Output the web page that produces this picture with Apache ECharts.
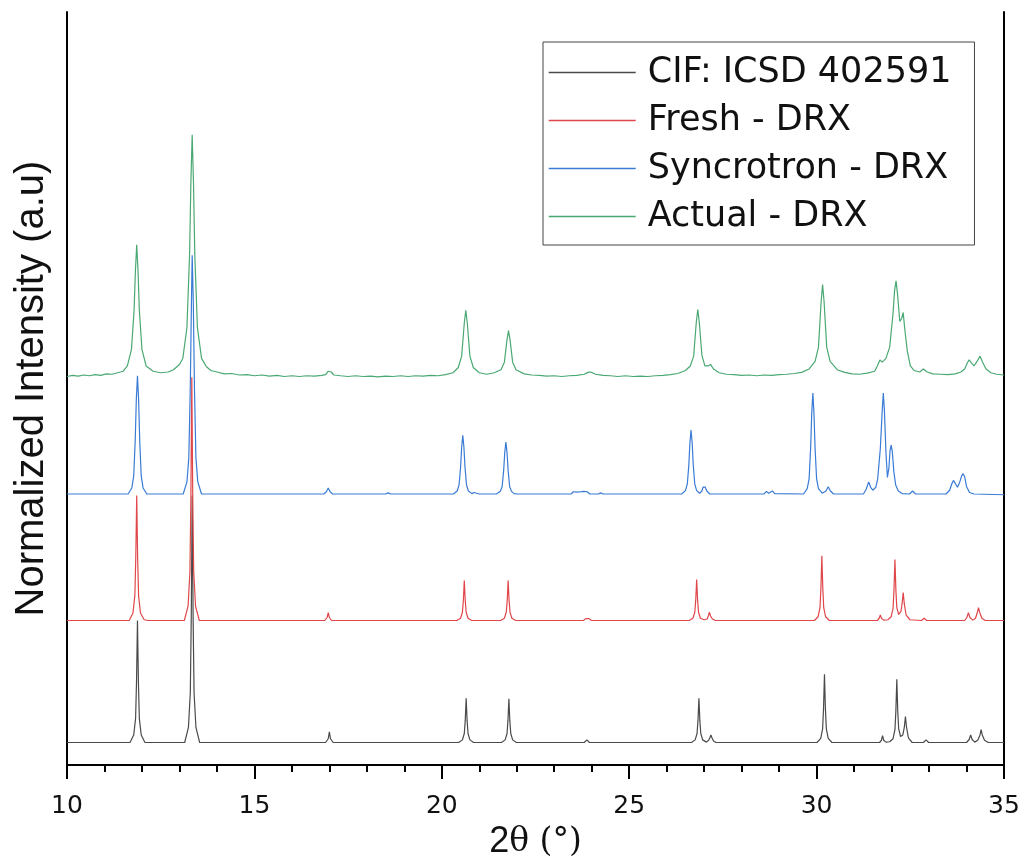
<!DOCTYPE html>
<html>
<head>
<meta charset="utf-8">
<script src="https://cdn.jsdelivr.net/npm/echarts@6/dist/echarts.min.js"></script>
<style>html,body{margin:0;padding:0;background:#fff}#c{width:1026px;height:865px}</style>
</head>
<body>
<div id="c"></div>
<script>
// Series names (legend order)
const seriesNames = ['CIF: ICSD 402591', 'Fresh - DRX', 'Syncrotron - DRX', 'Actual - DRX'];
const seriesColors = ['#4a4a4a', '#e0474a', '#3a7bd5', '#4aa873'];

// x-axis range / ticks (2θ, degrees)
const xMin = 10, xMax = 35, xStep = 5;

// [2θ, normalized intensity (stacked offset units)]
const cifData = [
[10,3.0],[11.68,3.0],[11.78,4.0],[11.83,6.2],[11.855,11.1],[11.88,19.2],[11.905,11.1],[11.93,6.2],[11.98,4.0],[12.08,3.0],
[13.14,3.0],[13.24,5.0],[13.29,9.6],[13.315,19.4],[13.34,35.8],[13.365,19.4],[13.39,9.6],[13.44,5.0],[13.54,3.0],
[16.9,3.0],[16.97,3.5],[17.0,4.4],[17.03,3.5],[17.1,3.0],
[20.45,3.0],[20.55,3.35],[20.6,4.2],[20.625,5.9],[20.65,8.87],[20.675,5.9],[20.7,4.2],[20.75,3.35],[20.85,3.0],
[21.59,3.0],[21.69,3.35],[21.74,4.2],[21.765,5.9],[21.79,8.8],[21.815,5.9],[21.84,4.2],[21.89,3.35],[21.99,3.0],
[23.8,3.0],[23.87,3.35],[23.94,3.0],[24.3,3.0],[24.35,3.15],[24.4,3.0],
[26.66,3.0],[26.76,3.35],[26.81,4.2],[26.835,5.9],[26.86,8.87],[26.885,5.9],[26.91,4.2],[26.96,3.35],[27.06,3.05],[27.12,3.3],[27.15,3.6],[27.18,4.0],[27.21,3.6],[27.25,3.2],[27.32,3.0],
[30.01,3.0],[30.11,3.55],[30.16,4.8],[30.185,7.5],[30.21,12.05],[30.235,7.5],[30.26,4.8],[30.31,3.55],[30.41,3.0],
[31.68,3.0],[31.73,3.3],[31.76,3.9],[31.79,3.3],[31.85,3.05],
[31.95,3.1],[32.04,3.5],[32.09,4.7],[32.115,7.2],[32.14,11.4],[32.165,7.2],[32.19,4.8],[32.24,3.8],[32.3,4.0],[32.34,5.0],[32.37,6.45],[32.4,5.0],[32.45,3.6],[32.55,3.0],
[32.85,3.0],[32.92,3.35],[32.99,3.0],
[34.0,3.0],[34.07,3.4],[34.11,4.0],[34.15,3.4],[34.22,3.05],[34.3,3.3],[34.36,4.0],[34.39,4.7],[34.42,4.0],[34.48,3.3],[34.58,3.0],[35,3.0]
];

const freshData = [
[10,19.2],[11.66,19.2],[11.76,20.2],[11.81,22.5],[11.835,27.5],[11.86,35.8],[11.885,27.5],[11.91,22.5],[11.96,20.2],[12.06,19.3],[12.11,19.5],[12.16,19.2],
[13.13,19.2],[13.23,21.1],[13.28,25.7],[13.305,35.4],[13.33,51.5],[13.355,35.4],[13.38,25.7],[13.43,21.1],[13.53,19.2],
[16.88,19.2],[16.94,19.6],[16.97,20.25],[17.0,19.6],[17.06,19.2],
[20.4,19.2],[20.5,19.5],[20.55,20.3],[20.575,21.85],[20.6,24.5],[20.625,21.85],[20.65,20.3],[20.7,19.5],[20.8,19.2],
[21.57,19.2],[21.67,19.5],[21.72,20.3],[21.745,21.85],[21.77,24.5],[21.795,21.85],[21.82,20.3],[21.87,19.5],[21.97,19.2],
[23.78,19.2],[23.84,19.45],[23.885,19.25],[23.93,19.45],[23.99,19.2],[24.28,19.2],[24.33,19.35],[24.38,19.2],
[26.6,19.2],[26.7,19.5],[26.75,20.3],[26.775,21.9],[26.8,24.65],[26.825,21.9],[26.85,20.3],[26.9,19.5],[27.0,19.3],[27.08,19.4],[27.11,19.8],[27.14,20.3],[27.17,19.8],[27.22,19.4],[27.3,19.2],
[29.94,19.2],[30.04,19.7],[30.09,20.9],[30.115,23.5],[30.14,27.8],[30.165,23.5],[30.19,20.9],[30.24,19.7],[30.34,19.2],
[31.62,19.2],[31.67,19.5],[31.7,19.95],[31.73,19.5],[31.79,19.25],
[31.9,19.3],[31.99,19.7],[32.04,20.8],[32.065,23.3],[32.09,27.3],[32.115,23.3],[32.14,20.9],[32.19,20.0],[32.25,20.4],[32.28,21.4],[32.31,22.9],[32.34,21.4],[32.39,19.9],[32.49,19.3],
[32.8,19.2],[32.87,19.5],[32.94,19.2],
[33.95,19.2],[34.01,19.6],[34.05,20.25],[34.09,19.6],[34.17,19.25],[34.24,19.5],[34.29,20.3],[34.32,20.9],[34.35,20.3],[34.41,19.5],[34.5,19.2],[35,19.2]
];

const syncData = [
[10,36.0],[11.63,36.0],[11.73,36.8],[11.78,38.4],[11.82,43.1],[11.85,48.6],[11.88,51.7],[11.91,48.6],[11.94,43.1],[11.98,38.4],[12.03,36.8],[12.13,36.0],
[13.1,36.0],[13.2,37.6],[13.25,40.8],[13.29,50.3],[13.32,61.4],[13.34,67.7],[13.37,61.4],[13.4,50.3],[13.44,40.8],[13.49,37.6],[13.59,36.0],
[16.85,36.0],[16.92,36.3],[16.97,36.8],[17.02,36.3],[17.09,36.0],
[18.5,36.0],[18.57,36.15],[18.64,36.0],
[20.31,36.0],[20.41,36.4],[20.46,37.2],[20.5,39.5],[20.53,42.2],[20.56,43.8],[20.59,42.2],[20.62,39.5],[20.66,37.2],[20.71,36.4],[20.8,36.05],[20.86,36.2],[20.89,36.35],[20.93,36.1],[21.0,36.0],
[21.46,36.0],[21.56,36.35],[21.61,37.0],[21.65,39.1],[21.68,41.5],[21.71,42.9],[21.74,41.5],[21.77,39.1],[21.81,37.0],[21.86,36.35],[21.93,36.05],[21.98,36.3],[22.03,36.0],
[23.45,36.0],[23.51,36.3],[23.55,36.5],[23.62,36.25],[23.7,36.3],[23.78,36.35],[23.83,36.25],[23.88,36.3],[23.95,36.0],[24.18,36.0],[24.24,36.15],[24.3,36.0],
[26.4,36.0],[26.5,36.45],[26.55,37.3],[26.59,39.8],[26.62,42.8],[26.65,44.5],[26.68,42.8],[26.71,39.8],[26.75,37.3],[26.8,36.45],[26.88,36.1],[26.94,36.4],[26.97,36.9],[27.0,37.1],[27.03,36.9],[27.07,36.4],[27.15,36.0],
[28.6,36.0],[28.66,36.35],[28.72,36.1],[28.82,36.4],[28.88,36.05],
[29.65,36.0],[29.75,36.7],[29.8,38.0],[29.84,42.0],[29.87,46.7],[29.9,49.4],[29.93,46.7],[29.96,42.0],[30.0,38.0],[30.05,36.7],[30.15,36.1],[30.25,36.4],[30.31,36.95],[30.37,36.4],[30.45,36.0],
[31.25,36.0],[31.32,36.6],[31.39,37.6],[31.45,36.8],[31.5,36.5],[31.58,36.9],[31.63,38.0],[31.7,42.0],[31.75,47.0],[31.78,49.4],[31.81,47.0],[31.85,41.5],[31.89,38.2],[31.93,39.5],[31.96,41.8],[31.99,42.5],[32.02,41.6],[32.06,39.0],[32.11,37.2],[32.18,36.4],[32.28,36.05],
[32.48,36.0],[32.56,36.4],[32.64,36.0],
[33.45,36.0],[33.55,36.5],[33.61,37.4],[33.65,37.8],[33.7,37.4],[33.76,36.9],[33.82,37.6],[33.87,38.4],[33.91,38.7],[33.95,38.3],[34.0,37.0],[34.08,36.2],[34.2,36.0],[35,35.9]
];

const actualData = [
[10,51.6],[10.15,51.75],[10.3,51.65],[10.45,51.8],[10.6,51.7],[10.75,51.85],[10.9,51.75],[11.05,51.95],[11.2,51.9],[11.35,52.1],[11.5,52.3],[11.61,53.0],[11.72,55.2],[11.79,60.4],[11.825,65.6],[11.86,69.1],[11.895,65.6],[11.93,60.4],[12.0,55.2],[12.11,53.0],[12.3,52.3],[12.5,52.1],[12.7,52.2],[12.84,52.5],[13.0,53.2],[13.09,54.0],[13.2,58.1],[13.27,67.7],[13.305,77.3],[13.34,83.7],[13.375,77.3],[13.41,67.7],[13.48,58.1],[13.59,54.0],[13.72,52.9],[13.84,52.4],[14.0,52.2],[14.2,51.95],[14.4,52.0],[14.6,51.8],[14.8,51.85],[15.0,51.7],[15.2,51.8],[15.4,51.65],[15.6,51.75],[15.8,51.6],[16.0,51.7],[16.2,51.6],[16.4,51.7],[16.6,51.65],[16.8,51.75],[16.9,51.85],[16.97,52.3],[17.0,52.45],[17.05,52.2],[17.12,51.8],[17.3,51.7],[17.5,51.6],[17.7,51.7],[17.9,51.6],[18.1,51.65],[18.3,51.55],[18.5,51.65],[18.7,51.6],[18.9,51.7],[19.1,51.6],[19.3,51.7],[19.5,51.65],[19.7,51.75],[19.9,51.7],
[20.1,51.85],[20.3,52.1],[20.44,52.8],[20.53,54.3],[20.6,58.7],[20.64,60.4],[20.68,58.7],[20.75,54.3],[20.84,52.8],[21.0,52.1],[21.2,51.9],[21.4,52.1],[21.58,52.5],[21.67,53.5],[21.74,56.5],[21.78,57.7],[21.82,56.5],[21.89,53.5],[21.98,52.5],[22.2,51.95],[22.4,51.8],[22.6,51.75],[22.8,51.65],[23.0,51.7],[23.2,51.6],[23.4,51.7],[23.6,51.75],[23.8,51.9],[23.9,52.15],[23.97,52.2],[24.1,51.9],[24.3,51.75],[24.5,51.7],[24.7,51.6],[24.9,51.7],[25.1,51.6],[25.3,51.65],[25.5,51.6],[25.7,51.7],[25.9,51.75],[26.1,51.85],[26.3,52.0],
[26.5,52.4],[26.63,53.0],[26.72,54.3],[26.79,58.8],[26.83,60.5],[26.87,58.8],[26.94,54.4],[27.02,53.0],[27.1,53.0],[27.17,53.2],[27.25,52.6],[27.4,52.1],[27.6,51.9],[27.8,51.85],[28.0,51.75],[28.2,51.8],[28.4,51.7],[28.6,51.8],[28.8,51.75],[29.0,51.85],[29.2,51.9],[29.4,52.0],[29.6,52.15],
[29.8,52.6],[29.96,53.6],[30.05,55.5],[30.12,61.5],[30.16,63.8],[30.2,61.5],[30.27,55.5],[30.36,53.6],[30.55,52.5],[30.75,52.15],[30.95,51.95],[31.15,51.9],[31.35,52.05],[31.55,52.3],[31.62,53.0],[31.69,53.8],[31.75,53.5],[31.85,54.0],[31.95,55.5],[32.04,60.0],[32.08,63.0],[32.12,64.3],[32.16,62.5],[32.22,58.9],[32.27,59.3],[32.31,60.1],[32.35,58.0],[32.42,55.0],[32.5,53.0],[32.6,52.4],[32.75,52.2],[32.85,52.6],[32.95,52.2],[33.1,51.95],[33.3,51.9],[33.5,51.85],[33.7,51.95],[33.85,52.2],[33.95,52.6],[34.02,53.4],[34.07,53.8],[34.13,53.4],[34.2,53.0],[34.28,53.6],[34.36,54.3],[34.42,53.6],[34.52,52.6],[34.65,52.1],[34.8,51.9],[35,51.8]
];

const chart = echarts.init(document.getElementById('c'), null, {renderer: 'canvas'});
const axisLineStyle = {color: '#000', width: 2};
function lineSeries(idx, data, z) {
  return {
    name: seriesNames[idx], type: 'line', data: data, symbol: 'none', showSymbol: false,
    smooth: false, z: z, animation: false,
    lineStyle: {color: seriesColors[idx], width: 1.2}, itemStyle: {color: seriesColors[idx]}
  };
}
const option = {
  animation: false,
  backgroundColor: '#fff',
  grid: {left: 67, right: 22, top: 12, bottom: 98},
  legend: {
    data: seriesNames.map(function (n, i) {
      return {name: n, lineStyle: {color: seriesColors[i], width: 1.4}};
    }),
    orient: 'vertical', left: 543, top: 42,
    padding: [13, 23, 11, 5], itemWidth: 87, itemHeight: 34, itemGap: 13,
    borderColor: '#444', borderWidth: 1, backgroundColor: '#fff',
    itemStyle: {opacity: 0},
    textStyle: {fontFamily: 'DejaVu Sans', fontSize: 35, color: '#111', lineHeight: 34, padding: [0, 0, 0, 7]}
  },
  xAxis: [{
    type: 'value', min: xMin, max: xMax, interval: xStep, position: 'bottom',
    axisLine: {show: true, lineStyle: axisLineStyle},
    axisTick: {show: true, inside: false, length: 14, lineStyle: {color: '#000', width: 2}},
    minorTick: {show: true, splitNumber: 5, length: 7, lineStyle: {color: '#000', width: 2}},
    splitLine: {show: false},
    axisLabel: {fontFamily: 'DejaVu Sans', fontSize: 25, color: '#111', margin: 29},
    name: '{a|2}{b|θ (°)}', nameLocation: 'middle', nameGap: 58,
    nameTextStyle: {rich: {
      a: {fontFamily: 'Liberation Sans', fontSize: 36, color: '#111'},
      b: {fontFamily: 'DejaVu Serif', fontSize: 33, color: '#111'}
    }}
  }, {
    type: 'value', min: xMin, max: xMax, interval: xStep, position: 'top',
    axisLine: {show: true, lineStyle: axisLineStyle},
    axisTick: {show: true, inside: true, length: 14, lineStyle: {color: '#000', width: 2}},
    minorTick: {show: true, splitNumber: 5, length: 7, lineStyle: {color: '#000', width: 2}},
    splitLine: {show: false}, axisLabel: {show: false}
  }],
  yAxis: [{
    type: 'value', min: 0, max: 100, position: 'left',
    axisLine: {show: true, lineStyle: axisLineStyle},
    axisTick: {show: false}, axisLabel: {show: false}, splitLine: {show: false},
    name: 'Normalized Intensity (a.u)', nameLocation: 'middle', nameGap: 15,
    nameTextStyle: {fontFamily: 'Liberation Sans', fontSize: 40, color: '#111'}
  }, {
    type: 'value', min: 0, max: 100, position: 'right',
    axisLine: {show: true, lineStyle: axisLineStyle},
    axisTick: {show: false}, axisLabel: {show: false}, splitLine: {show: false}
  }],
  series: [
    lineSeries(0, cifData, 2),
    lineSeries(3, actualData, 3),
    lineSeries(2, syncData, 4),
    lineSeries(1, freshData, 5)
  ]
};
chart.setOption(option);
</script>
</body>
</html>
